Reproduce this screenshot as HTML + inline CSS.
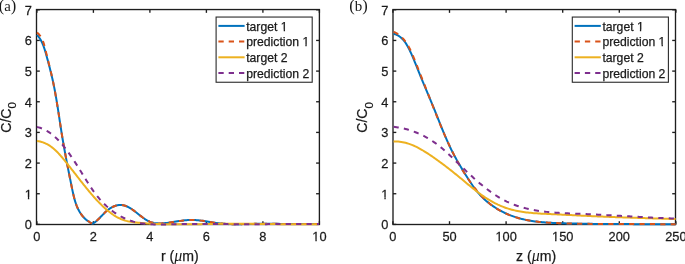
<!DOCTYPE html><html><head><meta charset="utf-8"><style>
html,body{margin:0;padding:0;background:#fff;}
svg{display:block;will-change:transform;}
text{font-family:"Liberation Sans",sans-serif;fill:#1a1a1a;stroke:#1a1a1a;stroke-width:0.25px;}
.serif{font-family:"Liberation Serif",serif;stroke:none;}
</style></head><body>
<svg width="685" height="264" viewBox="0 0 685 264">
<g stroke="#1e1e1e" stroke-width="1.35" fill="none">
<rect x="36.5" y="9.55" width="282.90" height="214.95"/>
<line x1="36.90" y1="224.5" x2="36.90" y2="221.20"/><line x1="36.90" y1="9.55" x2="36.90" y2="12.85"/>
<line x1="93.40" y1="224.5" x2="93.40" y2="221.20"/><line x1="93.40" y1="9.55" x2="93.40" y2="12.85"/>
<line x1="149.90" y1="224.5" x2="149.90" y2="221.20"/><line x1="149.90" y1="9.55" x2="149.90" y2="12.85"/>
<line x1="206.40" y1="224.5" x2="206.40" y2="221.20"/><line x1="206.40" y1="9.55" x2="206.40" y2="12.85"/>
<line x1="262.90" y1="224.5" x2="262.90" y2="221.20"/><line x1="262.90" y1="9.55" x2="262.90" y2="12.85"/>
<line x1="319.40" y1="224.5" x2="319.40" y2="221.20"/><line x1="319.40" y1="9.55" x2="319.40" y2="12.85"/>
<line x1="36.5" y1="224.40" x2="39.80" y2="224.40"/><line x1="319.4" y1="224.40" x2="316.10" y2="224.40"/>
<line x1="36.5" y1="193.74" x2="39.80" y2="193.74"/><line x1="319.4" y1="193.74" x2="316.10" y2="193.74"/>
<line x1="36.5" y1="163.08" x2="39.80" y2="163.08"/><line x1="319.4" y1="163.08" x2="316.10" y2="163.08"/>
<line x1="36.5" y1="132.42" x2="39.80" y2="132.42"/><line x1="319.4" y1="132.42" x2="316.10" y2="132.42"/>
<line x1="36.5" y1="101.76" x2="39.80" y2="101.76"/><line x1="319.4" y1="101.76" x2="316.10" y2="101.76"/>
<line x1="36.5" y1="71.10" x2="39.80" y2="71.10"/><line x1="319.4" y1="71.10" x2="316.10" y2="71.10"/>
<line x1="36.5" y1="40.44" x2="39.80" y2="40.44"/><line x1="319.4" y1="40.44" x2="316.10" y2="40.44"/>
<line x1="36.5" y1="9.78" x2="39.80" y2="9.78"/><line x1="319.4" y1="9.78" x2="316.10" y2="9.78"/>
</g>
<g fill="none" stroke-width="2.0" stroke-linejoin="round">
<path d="M37.01 34.89 L37.96 35.98 L38.85 37.11 L39.67 38.29 L40.44 39.51 L41.15 40.77 L41.81 42.06 L42.43 43.39 L43.00 44.75 L43.54 46.14 L44.04 47.54 L44.52 48.96 L44.97 50.40 L45.41 51.85 L45.83 53.30 L46.24 54.76 L46.64 56.22 L47.03 57.68 L47.43 59.13 L47.82 60.58 L48.21 62.03 L48.59 63.47 L48.97 64.92 L49.35 66.36 L49.72 67.80 L50.09 69.24 L50.45 70.68 L50.81 72.13 L51.16 73.57 L51.50 75.01 L51.85 76.45 L52.18 77.90 L52.51 79.34 L52.83 80.79 L53.15 82.24 L53.46 83.70 L53.76 85.15 L54.06 86.61 L54.35 88.07 L54.63 89.53 L54.91 91.00 L55.18 92.47 L55.45 93.94 L55.71 95.41 L55.97 96.88 L56.22 98.36 L56.47 99.84 L56.72 101.31 L56.96 102.79 L57.20 104.27 L57.44 105.75 L57.67 107.24 L57.90 108.72 L58.13 110.20 L58.36 111.69 L58.59 113.17 L58.81 114.65 L59.04 116.14 L59.26 117.62 L59.48 119.10 L59.71 120.58 L59.93 122.06 L60.15 123.54 L60.38 125.02 L60.60 126.50 L60.83 127.98 L61.06 129.45 L61.29 130.93 L61.52 132.40 L61.76 133.87 L62.00 135.34 L62.24 136.80 L62.48 138.27 L62.73 139.73 L62.98 141.19 L63.23 142.65 L63.48 144.11 L63.74 145.57 L64.00 147.02 L64.26 148.48 L64.52 149.94 L64.78 151.39 L65.05 152.85 L65.32 154.30 L65.59 155.76 L65.87 157.21 L66.14 158.67 L66.42 160.13 L66.70 161.58 L66.98 163.04 L67.26 164.50 L67.55 165.96 L67.83 167.42 L68.12 168.88 L68.41 170.35 L68.70 171.81 L68.99 173.28 L69.28 174.75 L69.58 176.22 L69.88 177.70 L70.17 179.17 L70.47 180.65 L70.77 182.14 L71.07 183.62 L71.37 185.11 L71.68 186.60 L71.98 188.09 L72.29 189.59 L72.60 191.09 L72.92 192.58 L73.25 194.07 L73.60 195.55 L73.96 197.03 L74.34 198.49 L74.74 199.94 L75.16 201.38 L75.61 202.79 L76.09 204.19 L76.60 205.57 L77.15 206.93 L77.73 208.26 L78.35 209.56 L79.02 210.83 L79.73 212.07 L80.48 213.28 L81.29 214.45 L82.15 215.58 L83.06 216.67 L84.04 217.72 L85.07 218.73 L86.17 219.69 L87.33 220.60 L88.57 221.45 L89.87 222.26 L91.25 223.01 L92.70 223.71 L92.70 223.70 L93.87 222.98 L95.01 222.16 L96.13 221.26 L97.23 220.28 L98.31 219.25 L99.39 218.18 L100.47 217.07 L101.55 215.95 L102.63 214.82 L103.74 213.70 L104.86 212.60 L106.01 211.54 L107.19 210.52 L108.41 209.57 L109.66 208.68 L110.93 207.87 L112.24 207.15 L113.56 206.51 L114.90 205.97 L116.25 205.54 L117.61 205.22 L118.98 205.02 L120.34 204.94 L121.71 205.00 L123.06 205.19 L124.41 205.52 L125.75 205.96 L127.07 206.50 L128.39 207.14 L129.69 207.86 L130.99 208.65 L132.26 209.49 L133.53 210.38 L134.78 211.31 L136.01 212.26 L137.24 213.22 L138.46 214.19 L139.67 215.16 L140.89 216.11 L142.11 217.04 L143.34 217.94 L144.57 218.80 L145.82 219.60 L147.09 220.35 L148.38 221.03 L149.69 221.63 L151.03 222.15 L152.40 222.56 L153.79 222.89 L155.22 223.12 L156.66 223.28 L158.12 223.37 L159.59 223.40 L161.07 223.38 L162.55 223.31 L164.03 223.21 L165.52 223.07 L167.01 222.91 L168.50 222.72 L169.98 222.51 L171.47 222.29 L172.96 222.05 L174.45 221.81 L175.94 221.57 L177.44 221.33 L178.93 221.09 L180.42 220.87 L181.91 220.65 L183.40 220.46 L184.88 220.29 L186.37 220.15 L187.86 220.04 L189.35 219.97 L190.83 219.93 L192.31 219.94 L193.80 219.98 L195.28 220.06 L196.76 220.16 L198.24 220.29 L199.72 220.45 L201.20 220.63 L202.67 220.83 L204.15 221.04 L205.63 221.26 L207.11 221.49 L208.59 221.73 L210.06 221.97 L211.54 222.21 L213.02 222.44 L214.50 222.67 L215.98 222.89 L217.47 223.10 L218.95 223.29 L220.43 223.46 L221.92 223.61 L223.41 223.74 L224.89 223.85 L226.38 223.94 L227.87 224.01 L229.36 224.07 L230.86 224.12 L232.35 224.15 L233.84 224.17 L235.34 224.18 L236.83 224.18 L238.33 224.17 L239.82 224.15 L241.32 224.13 L242.81 224.10 L244.31 224.07 L245.81 224.04 L247.30 224.01 L248.80 223.97 L250.29 223.94 L251.79 223.91 L253.29 223.88 L254.78 223.86 L256.28 223.84 L257.77 223.82 L259.27 223.81 L260.76 223.80 L262.25 223.79 L263.75 223.79 L265.24 223.79 L266.74 223.79 L268.23 223.79 L269.72 223.80 L271.22 223.81 L272.71 223.82 L274.20 223.83 L275.69 223.84 L277.19 223.85 L278.68 223.87 L280.17 223.88 L281.66 223.90 L283.16 223.92 L284.65 223.93 L286.14 223.95 L287.63 223.97 L289.13 223.98 L290.62 224.00 L292.11 224.02 L293.60 224.03 L295.10 224.05 L296.59 224.06 L298.08 224.07 L299.57 224.08 L301.07 224.09 L302.56 224.10 L304.05 224.10 L305.55 224.10 L307.04 224.10 L308.54 224.10 L310.03 224.10 L311.52 224.09 L313.02 224.08 L314.51 224.06 L316.01 224.04 L317.50 224.02 L319.00 224.00" stroke="#0072BD"/>
<path d="M37.01 32.59 L38.13 33.53 L39.13 34.54 L40.03 35.63 L40.83 36.79 L41.55 38.02 L42.19 39.29 L42.76 40.62 L43.28 41.99 L43.74 43.39 L44.16 44.82 L44.56 46.27 L44.93 47.74 L45.29 49.20 L45.65 50.67 L46.01 52.14 L46.36 53.60 L46.73 55.06 L47.09 56.51 L47.45 57.96 L47.81 59.41 L48.17 60.86 L48.53 62.31 L48.89 63.75 L49.24 65.19 L49.60 66.64 L49.95 68.08 L50.30 69.52 L50.64 70.96 L50.98 72.40 L51.32 73.85 L51.65 75.29 L51.97 76.74 L52.29 78.19 L52.60 79.64 L52.91 81.09 L53.21 82.55 L53.51 84.01 L53.80 85.47 L54.08 86.93 L54.36 88.39 L54.64 89.86 L54.91 91.32 L55.18 92.79 L55.44 94.26 L55.70 95.73 L55.95 97.20 L56.21 98.68 L56.46 100.15 L56.70 101.63 L56.94 103.10 L57.18 104.58 L57.42 106.06 L57.66 107.53 L57.89 109.01 L58.13 110.49 L58.36 111.96 L58.59 113.44 L58.82 114.92 L59.05 116.40 L59.28 117.87 L59.50 119.35 L59.73 120.82 L59.96 122.30 L60.19 123.77 L60.42 125.24 L60.65 126.72 L60.88 128.19 L61.11 129.66 L61.35 131.12 L61.58 132.59 L61.82 134.06 L62.06 135.52 L62.31 136.98 L62.55 138.44 L62.80 139.90 L63.05 141.36 L63.30 142.81 L63.55 144.27 L63.81 145.73 L64.06 147.18 L64.32 148.63 L64.58 150.09 L64.84 151.54 L65.11 153.00 L65.38 154.45 L65.64 155.90 L65.91 157.36 L66.19 158.81 L66.46 160.27 L66.74 161.72 L67.01 163.18 L67.29 164.64 L67.57 166.10 L67.86 167.56 L68.14 169.02 L68.43 170.48 L68.71 171.94 L69.00 173.41 L69.29 174.88 L69.59 176.35 L69.88 177.82 L70.18 179.30 L70.47 180.77 L70.77 182.25 L71.07 183.74 L71.37 185.22 L71.67 186.71 L71.98 188.20 L72.28 189.69 L72.60 191.18 L72.92 192.67 L73.25 194.16 L73.60 195.64 L73.96 197.11 L74.34 198.56 L74.75 200.01 L75.17 201.44 L75.63 202.85 L76.11 204.25 L76.62 205.62 L77.17 206.97 L77.76 208.29 L78.38 209.59 L79.05 210.86 L79.76 212.09 L80.52 213.29 L81.32 214.46 L82.18 215.59 L83.10 216.68 L84.07 217.73 L85.10 218.73 L86.20 219.69 L87.36 220.59 L88.59 221.45 L89.88 222.26 L91.25 223.01 L92.70 223.71 L92.70 223.70 L93.87 222.98 L95.01 222.16 L96.13 221.26 L97.23 220.28 L98.31 219.25 L99.39 218.18 L100.47 217.07 L101.55 215.95 L102.63 214.82 L103.74 213.70 L104.86 212.60 L106.01 211.54 L107.19 210.52 L108.41 209.57 L109.66 208.68 L110.93 207.87 L112.24 207.15 L113.56 206.51 L114.90 205.97 L116.25 205.54 L117.61 205.22 L118.98 205.02 L120.34 204.94 L121.71 205.00 L123.06 205.19 L124.41 205.52 L125.75 205.96 L127.07 206.50 L128.39 207.14 L129.69 207.86 L130.99 208.65 L132.26 209.49 L133.53 210.38 L134.78 211.31 L136.01 212.26 L137.24 213.22 L138.46 214.19 L139.67 215.16 L140.89 216.11 L142.11 217.04 L143.34 217.94 L144.57 218.80 L145.82 219.60 L147.09 220.35 L148.38 221.03 L149.69 221.63 L151.03 222.15 L152.40 222.56 L153.79 222.89 L155.22 223.12 L156.66 223.28 L158.12 223.37 L159.59 223.40 L161.07 223.38 L162.55 223.31 L164.03 223.21 L165.52 223.07 L167.01 222.91 L168.50 222.72 L169.98 222.51 L171.47 222.29 L172.96 222.05 L174.45 221.81 L175.94 221.57 L177.44 221.33 L178.93 221.09 L180.42 220.87 L181.91 220.65 L183.40 220.46 L184.88 220.29 L186.37 220.15 L187.86 220.04 L189.35 219.97 L190.83 219.93 L192.31 219.94 L193.80 219.98 L195.28 220.06 L196.76 220.16 L198.24 220.29 L199.72 220.45 L201.20 220.63 L202.67 220.83 L204.15 221.04 L205.63 221.26 L207.11 221.49 L208.59 221.73 L210.06 221.97 L211.54 222.21 L213.02 222.44 L214.50 222.67 L215.98 222.89 L217.47 223.10 L218.95 223.29 L220.43 223.46 L221.92 223.61 L223.41 223.74 L224.89 223.85 L226.38 223.94 L227.87 224.01 L229.36 224.07 L230.86 224.12 L232.35 224.15 L233.84 224.17 L235.34 224.18 L236.83 224.18 L238.33 224.17 L239.82 224.15 L241.32 224.13 L242.81 224.10 L244.31 224.07 L245.81 224.04 L247.30 224.01 L248.80 223.97 L250.29 223.94 L251.79 223.91 L253.29 223.88 L254.78 223.86 L256.28 223.84 L257.77 223.82 L259.27 223.81 L260.76 223.80 L262.25 223.79 L263.75 223.79 L265.24 223.79 L266.74 223.79 L268.23 223.79 L269.72 223.80 L271.22 223.81 L272.71 223.82 L274.20 223.83 L275.69 223.84 L277.19 223.85 L278.68 223.87 L280.17 223.88 L281.66 223.90 L283.16 223.92 L284.65 223.93 L286.14 223.95 L287.63 223.97 L289.13 223.98 L290.62 224.00 L292.11 224.02 L293.60 224.03 L295.10 224.05 L296.59 224.06 L298.08 224.07 L299.57 224.08 L301.07 224.09 L302.56 224.10 L304.05 224.10 L305.55 224.10 L307.04 224.10 L308.54 224.10 L310.03 224.10 L311.52 224.09 L313.02 224.08 L314.51 224.06 L316.01 224.04 L317.50 224.02 L319.00 224.00" stroke="#D95319" stroke-dasharray="5.2 5.2"/>
<path d="M37.00 141.00 L38.58 141.24 L40.11 141.56 L41.60 141.96 L43.03 142.42 L44.43 142.96 L45.78 143.56 L47.10 144.22 L48.38 144.93 L49.62 145.70 L50.83 146.52 L52.00 147.39 L53.15 148.30 L54.27 149.26 L55.36 150.24 L56.44 151.26 L57.48 152.31 L58.51 153.39 L59.53 154.49 L60.52 155.61 L61.50 156.74 L62.48 157.89 L63.44 159.04 L64.39 160.20 L65.34 161.36 L66.28 162.52 L67.22 163.69 L68.15 164.85 L69.08 166.02 L70.00 167.19 L70.92 168.36 L71.84 169.53 L72.76 170.71 L73.67 171.88 L74.59 173.05 L75.50 174.23 L76.41 175.40 L77.32 176.58 L78.24 177.75 L79.15 178.92 L80.07 180.10 L80.99 181.27 L81.91 182.44 L82.84 183.61 L83.76 184.78 L84.70 185.95 L85.63 187.12 L86.58 188.28 L87.52 189.44 L88.48 190.60 L89.44 191.76 L90.41 192.91 L91.38 194.06 L92.37 195.21 L93.36 196.35 L94.36 197.48 L95.37 198.60 L96.39 199.72 L97.42 200.82 L98.46 201.92 L99.51 203.00 L100.58 204.07 L101.65 205.13 L102.74 206.17 L103.84 207.20 L104.96 208.22 L106.09 209.22 L107.23 210.20 L108.39 211.16 L109.56 212.09 L110.75 213.00 L111.96 213.89 L113.18 214.74 L114.42 215.55 L115.68 216.33 L116.95 217.06 L118.24 217.76 L119.56 218.41 L120.89 219.01 L122.24 219.56 L123.61 220.05 L125.00 220.49 L126.41 220.88 L127.84 221.23 L129.28 221.53 L130.73 221.80 L132.19 222.04 L133.66 222.24 L135.14 222.43 L136.63 222.59 L138.12 222.74 L139.61 222.87 L141.10 223.00 L142.60 223.12 L144.09 223.24 L145.58 223.34 L147.07 223.45 L148.57 223.54 L150.06 223.63 L151.55 223.71 L153.05 223.79 L154.54 223.86 L156.03 223.93 L157.53 223.99 L159.02 224.04 L160.52 224.09 L162.01 224.14 L163.51 224.18 L165.00 224.21 L166.50 224.25 L167.99 224.27 L169.49 224.30 L170.98 224.32 L172.48 224.33 L173.98 224.34 L175.47 224.35 L176.97 224.36 L178.46 224.36 L179.96 224.36 L181.46 224.36 L182.95 224.35 L184.45 224.34 L185.94 224.33 L187.44 224.32 L188.94 224.31 L190.43 224.29 L191.93 224.27 L193.43 224.25 L194.92 224.23 L196.42 224.21 L197.92 224.19 L199.41 224.16 L200.91 224.14 L202.40 224.11 L203.90 224.09 L205.40 224.06 L206.89 224.03 L208.39 224.01 L209.89 223.98 L211.38 223.96 L212.88 223.93 L214.37 223.91 L215.87 223.89 L217.37 223.86 L218.86 223.84 L220.36 223.82 L221.85 223.80 L223.35 223.79 L224.84 223.77 L226.34 223.76 L227.84 223.75 L229.33 223.74 L230.83 223.74 L232.32 223.73 L233.81 223.73 L235.31 223.73 L236.80 223.73 L238.30 223.74 L239.79 223.74 L241.29 223.75 L242.78 223.75 L244.28 223.76 L245.77 223.77 L247.26 223.79 L248.76 223.80 L250.25 223.81 L251.75 223.83 L253.24 223.84 L254.73 223.86 L256.23 223.87 L257.72 223.89 L259.21 223.91 L260.71 223.93 L262.20 223.95 L263.69 223.96 L265.19 223.98 L266.68 224.00 L268.18 224.02 L269.67 224.04 L271.16 224.06 L272.66 224.08 L274.15 224.10 L275.64 224.12 L277.14 224.13 L278.63 224.15 L280.13 224.17 L281.62 224.18 L283.11 224.20 L284.61 224.21 L286.10 224.22 L287.60 224.24 L289.09 224.25 L290.58 224.26 L292.08 224.26 L293.57 224.27 L295.07 224.28 L296.56 224.28 L298.06 224.28 L299.55 224.28 L301.05 224.28 L302.54 224.28 L304.04 224.27 L305.53 224.27 L307.03 224.26 L308.53 224.25 L310.02 224.23 L311.52 224.22 L313.01 224.20 L314.51 224.18 L316.01 224.15 L317.50 224.13 L319.00 224.10" stroke="#EDB120"/>
<path d="M37.00 126.99 L38.50 127.37 L39.97 127.82 L41.40 128.31 L42.79 128.87 L44.15 129.47 L45.47 130.13 L46.77 130.83 L48.03 131.58 L49.26 132.37 L50.46 133.20 L51.64 134.07 L52.79 134.98 L53.91 135.92 L55.01 136.90 L56.09 137.90 L57.14 138.93 L58.18 139.98 L59.20 141.06 L60.19 142.16 L61.18 143.27 L62.14 144.41 L63.09 145.55 L64.03 146.71 L64.96 147.87 L65.87 149.05 L66.77 150.24 L67.66 151.44 L68.54 152.65 L69.42 153.87 L70.28 155.09 L71.13 156.32 L71.97 157.56 L72.81 158.81 L73.64 160.07 L74.46 161.33 L75.28 162.59 L76.09 163.86 L76.90 165.13 L77.70 166.41 L78.50 167.69 L79.30 168.98 L80.09 170.26 L80.88 171.55 L81.67 172.84 L82.46 174.13 L83.25 175.42 L84.05 176.71 L84.84 178.00 L85.64 179.28 L86.44 180.56 L87.25 181.84 L88.06 183.11 L88.88 184.38 L89.70 185.64 L90.53 186.89 L91.38 188.13 L92.23 189.37 L93.09 190.60 L93.96 191.81 L94.85 193.02 L95.75 194.21 L96.66 195.40 L97.58 196.56 L98.53 197.72 L99.48 198.86 L100.46 199.98 L101.45 201.09 L102.46 202.18 L103.50 203.25 L104.55 204.31 L105.62 205.34 L106.72 206.36 L107.83 207.35 L108.96 208.32 L110.12 209.27 L111.29 210.20 L112.48 211.10 L113.69 211.98 L114.91 212.83 L116.15 213.66 L117.41 214.45 L118.68 215.22 L119.97 215.96 L121.27 216.67 L122.59 217.35 L123.92 218.00 L125.26 218.62 L126.62 219.20 L127.98 219.75 L129.36 220.27 L130.75 220.75 L132.15 221.19 L133.56 221.60 L134.98 221.97 L136.41 222.32 L137.85 222.63 L139.29 222.91 L140.74 223.16 L142.21 223.39 L143.67 223.59 L145.15 223.76 L146.63 223.92 L148.11 224.05 L149.60 224.16 L151.10 224.25 L152.60 224.32 L154.11 224.38 L155.61 224.42 L157.13 224.44 L158.64 224.46 L160.16 224.46 L161.68 224.45 L163.20 224.44 L164.72 224.41 L166.24 224.38 L167.76 224.35 L169.28 224.31 L170.80 224.27 L172.33 224.23 L173.84 224.19 L175.36 224.15 L176.88 224.12 L178.39 224.09 L179.90 224.06 L181.41 224.03 L182.91 224.01 L184.42 223.99 L185.92 223.98 L187.42 223.96 L188.92 223.95 L190.42 223.94 L191.91 223.94 L193.41 223.93 L194.90 223.93 L196.39 223.93 L197.88 223.94 L199.37 223.94 L200.86 223.94 L202.35 223.95 L203.84 223.96 L205.33 223.97 L206.81 223.98 L208.30 223.99 L209.79 224.00 L211.27 224.01 L212.76 224.02 L214.24 224.03 L215.73 224.04 L217.22 224.05 L218.70 224.07 L220.19 224.08 L221.68 224.09 L223.17 224.10 L224.66 224.11 L226.15 224.12 L227.64 224.12 L229.13 224.13 L230.62 224.14 L232.12 224.14 L233.61 224.15 L235.10 224.15 L236.60 224.15 L238.09 224.16 L239.59 224.16 L241.09 224.16 L242.58 224.16 L244.08 224.16 L245.58 224.16 L247.08 224.16 L248.58 224.16 L250.08 224.16 L251.58 224.16 L253.08 224.16 L254.58 224.15 L256.08 224.15 L257.58 224.15 L259.08 224.14 L260.58 224.14 L262.08 224.14 L263.58 224.13 L265.08 224.13 L266.59 224.13 L268.09 224.12 L269.59 224.12 L271.09 224.11 L272.59 224.11 L274.09 224.10 L275.60 224.10 L277.10 224.10 L278.60 224.09 L280.10 224.09 L281.60 224.08 L283.10 224.08 L284.60 224.08 L286.10 224.07 L287.60 224.07 L289.10 224.07 L290.60 224.06 L292.10 224.06 L293.60 224.06 L295.10 224.06 L296.60 224.06 L298.09 224.06 L299.59 224.06 L301.09 224.06 L302.58 224.06 L304.08 224.06 L305.58 224.06 L307.07 224.06 L308.56 224.06 L310.06 224.07 L311.55 224.07 L313.04 224.08 L314.53 224.08 L316.02 224.09 L317.51 224.09 L319.00 224.10" stroke="#7E2F8E" stroke-dasharray="5.2 5.2"/>
</g>
<rect x="216.1" y="17.05" width="96.1" height="65.2" fill="#fff" stroke="#2a2a2a" stroke-width="1.1"/>
<line x1="218.40" y1="25.9" x2="244.60" y2="25.9" stroke="#0072BD" stroke-width="2.0"/>
<text x="246.20" y="30.70" font-size="12.2">target 1</text>
<line x1="218.40" y1="41.6" x2="244.60" y2="41.6" stroke="#D95319" stroke-width="2.0" stroke-dasharray="5.3 5.0"/>
<text x="246.20" y="46.40" font-size="12.2">prediction 1</text>
<line x1="218.40" y1="57.3" x2="244.60" y2="57.3" stroke="#EDB120" stroke-width="2.0"/>
<text x="246.20" y="62.10" font-size="12.2">target 2</text>
<line x1="218.40" y1="73.0" x2="244.60" y2="73.0" stroke="#7E2F8E" stroke-width="2.0" stroke-dasharray="5.3 5.0"/>
<text x="246.20" y="77.80" font-size="12.2">prediction 2</text>
<text transform="translate(36.90,241.2) scale(0.95,1)" font-size="13.5" text-anchor="middle">0</text>
<text transform="translate(93.40,241.2) scale(0.95,1)" font-size="13.5" text-anchor="middle">2</text>
<text transform="translate(149.90,241.2) scale(0.95,1)" font-size="13.5" text-anchor="middle">4</text>
<text transform="translate(206.40,241.2) scale(0.95,1)" font-size="13.5" text-anchor="middle">6</text>
<text transform="translate(262.90,241.2) scale(0.95,1)" font-size="13.5" text-anchor="middle">8</text>
<text transform="translate(319.40,241.2) scale(0.95,1)" font-size="13.5" text-anchor="middle">10</text>
<text transform="translate(31.90,229.30) scale(0.95,1)" font-size="13.5" text-anchor="end">0</text>
<text transform="translate(31.90,198.64) scale(0.95,1)" font-size="13.5" text-anchor="end">1</text>
<text transform="translate(31.90,167.98) scale(0.95,1)" font-size="13.5" text-anchor="end">2</text>
<text transform="translate(31.90,137.32) scale(0.95,1)" font-size="13.5" text-anchor="end">3</text>
<text transform="translate(31.90,106.66) scale(0.95,1)" font-size="13.5" text-anchor="end">4</text>
<text transform="translate(31.90,76.00) scale(0.95,1)" font-size="13.5" text-anchor="end">5</text>
<text transform="translate(31.90,45.34) scale(0.95,1)" font-size="13.5" text-anchor="end">6</text>
<text transform="translate(31.90,14.68) scale(0.95,1)" font-size="13.5" text-anchor="end">7</text>
<text x="179.85" y="261.0" font-size="14.1" text-anchor="middle">r (<tspan class="serif" font-style="italic" font-size="16">&#956;</tspan>m)</text>
<text transform="translate(10.90,117.43) rotate(-90)" font-size="14.1" text-anchor="middle">C/C<tspan font-size="11.5" dy="5.2">0</tspan></text>
<g stroke="#1e1e1e" stroke-width="1.35" fill="none">
<rect x="393.0" y="9.55" width="282.50" height="214.95"/>
<line x1="392.90" y1="224.5" x2="392.90" y2="221.20"/><line x1="392.90" y1="9.55" x2="392.90" y2="12.85"/>
<line x1="449.50" y1="224.5" x2="449.50" y2="221.20"/><line x1="449.50" y1="9.55" x2="449.50" y2="12.85"/>
<line x1="506.10" y1="224.5" x2="506.10" y2="221.20"/><line x1="506.10" y1="9.55" x2="506.10" y2="12.85"/>
<line x1="562.70" y1="224.5" x2="562.70" y2="221.20"/><line x1="562.70" y1="9.55" x2="562.70" y2="12.85"/>
<line x1="619.30" y1="224.5" x2="619.30" y2="221.20"/><line x1="619.30" y1="9.55" x2="619.30" y2="12.85"/>
<line x1="675.90" y1="224.5" x2="675.90" y2="221.20"/><line x1="675.90" y1="9.55" x2="675.90" y2="12.85"/>
<line x1="393.0" y1="224.40" x2="396.30" y2="224.40"/><line x1="675.5" y1="224.40" x2="672.20" y2="224.40"/>
<line x1="393.0" y1="193.74" x2="396.30" y2="193.74"/><line x1="675.5" y1="193.74" x2="672.20" y2="193.74"/>
<line x1="393.0" y1="163.08" x2="396.30" y2="163.08"/><line x1="675.5" y1="163.08" x2="672.20" y2="163.08"/>
<line x1="393.0" y1="132.42" x2="396.30" y2="132.42"/><line x1="675.5" y1="132.42" x2="672.20" y2="132.42"/>
<line x1="393.0" y1="101.76" x2="396.30" y2="101.76"/><line x1="675.5" y1="101.76" x2="672.20" y2="101.76"/>
<line x1="393.0" y1="71.10" x2="396.30" y2="71.10"/><line x1="675.5" y1="71.10" x2="672.20" y2="71.10"/>
<line x1="393.0" y1="40.44" x2="396.30" y2="40.44"/><line x1="675.5" y1="40.44" x2="672.20" y2="40.44"/>
<line x1="393.0" y1="9.78" x2="396.30" y2="9.78"/><line x1="675.5" y1="9.78" x2="672.20" y2="9.78"/>
</g>
<g fill="none" stroke-width="2.0" stroke-linejoin="round">
<path d="M393.60 33.70 L395.11 34.18 L396.53 34.77 L397.86 35.44 L399.10 36.20 L400.27 37.04 L401.36 37.95 L402.39 38.93 L403.36 39.97 L404.26 41.07 L405.12 42.22 L405.93 43.41 L406.70 44.65 L407.44 45.91 L408.14 47.21 L408.82 48.53 L409.49 49.86 L410.13 51.21 L410.76 52.56 L411.38 53.93 L411.99 55.30 L412.59 56.68 L413.19 58.07 L413.77 59.46 L414.35 60.86 L414.92 62.26 L415.49 63.66 L416.05 65.07 L416.61 66.47 L417.17 67.88 L417.73 69.28 L418.29 70.69 L418.85 72.09 L419.42 73.48 L419.98 74.88 L420.55 76.27 L421.12 77.66 L421.69 79.04 L422.26 80.42 L422.83 81.80 L423.41 83.18 L423.98 84.56 L424.56 85.94 L425.14 87.31 L425.72 88.68 L426.29 90.06 L426.87 91.43 L427.45 92.80 L428.02 94.17 L428.60 95.54 L429.18 96.91 L429.75 98.28 L430.33 99.66 L430.90 101.03 L431.47 102.40 L432.04 103.78 L432.61 105.15 L433.18 106.53 L433.74 107.91 L434.31 109.29 L434.87 110.68 L435.42 112.06 L435.98 113.45 L436.54 114.84 L437.09 116.23 L437.65 117.62 L438.20 119.01 L438.75 120.41 L439.31 121.80 L439.86 123.19 L440.42 124.59 L440.98 125.98 L441.54 127.37 L442.10 128.76 L442.67 130.15 L443.24 131.54 L443.82 132.93 L444.39 134.31 L444.98 135.69 L445.56 137.07 L446.16 138.45 L446.76 139.82 L447.36 141.19 L447.97 142.56 L448.59 143.92 L449.22 145.28 L449.85 146.63 L450.49 147.98 L451.14 149.32 L451.80 150.66 L452.47 152.00 L453.15 153.32 L453.83 154.65 L454.53 155.96 L455.24 157.27 L455.96 158.58 L456.68 159.88 L457.41 161.17 L458.16 162.47 L458.90 163.75 L459.66 165.04 L460.42 166.32 L461.19 167.60 L461.97 168.87 L462.74 170.14 L463.53 171.42 L464.32 172.69 L465.11 173.96 L465.91 175.22 L466.70 176.49 L467.51 177.76 L468.31 179.03 L469.12 180.29 L469.94 181.55 L470.76 182.81 L471.59 184.05 L472.44 185.29 L473.30 186.52 L474.17 187.74 L475.07 188.94 L475.97 190.12 L476.90 191.29 L477.86 192.44 L478.83 193.58 L479.83 194.69 L480.85 195.77 L481.89 196.84 L482.95 197.89 L484.03 198.92 L485.14 199.92 L486.26 200.91 L487.40 201.87 L488.56 202.81 L489.74 203.73 L490.93 204.63 L492.14 205.50 L493.37 206.35 L494.61 207.19 L495.87 207.99 L497.14 208.78 L498.43 209.54 L499.73 210.28 L501.04 211.00 L502.36 211.70 L503.70 212.37 L505.04 213.02 L506.40 213.64 L507.77 214.24 L509.14 214.82 L510.52 215.38 L511.92 215.91 L513.31 216.41 L514.72 216.89 L516.13 217.35 L517.55 217.79 L518.98 218.20 L520.41 218.59 L521.84 218.96 L523.28 219.30 L524.73 219.63 L526.18 219.94 L527.63 220.23 L529.09 220.50 L530.56 220.75 L532.03 220.99 L533.50 221.21 L534.98 221.42 L536.45 221.61 L537.94 221.79 L539.42 221.95 L540.91 222.10 L542.40 222.24 L543.90 222.37 L545.39 222.49 L546.89 222.60 L548.39 222.69 L549.89 222.78 L551.39 222.86 L552.90 222.94 L554.40 223.01 L555.90 223.07 L557.41 223.12 L558.92 223.18 L560.42 223.22 L561.93 223.27 L563.43 223.31 L564.94 223.35 L566.44 223.39 L567.95 223.43 L569.45 223.46 L570.95 223.50 L572.45 223.53 L573.95 223.56 L575.45 223.59 L576.95 223.62 L578.45 223.65 L579.95 223.68 L581.45 223.71 L582.95 223.73 L584.44 223.76 L585.94 223.78 L587.43 223.80 L588.93 223.82 L590.42 223.84 L591.92 223.86 L593.41 223.88 L594.91 223.90 L596.40 223.92 L597.89 223.93 L599.39 223.95 L600.88 223.96 L602.37 223.98 L603.87 223.99 L605.36 224.00 L606.85 224.01 L608.34 224.02 L609.83 224.03 L611.32 224.04 L612.81 224.05 L614.31 224.06 L615.80 224.07 L617.29 224.07 L618.78 224.08 L620.27 224.09 L621.76 224.09 L623.25 224.10 L624.74 224.10 L626.23 224.11 L627.72 224.11 L629.22 224.12 L630.71 224.12 L632.20 224.12 L633.69 224.13 L635.18 224.13 L636.67 224.13 L638.17 224.13 L639.66 224.14 L641.15 224.14 L642.64 224.14 L644.14 224.14 L645.63 224.14 L647.13 224.14 L648.62 224.15 L650.11 224.15 L651.61 224.15 L653.10 224.15 L654.60 224.15 L656.10 224.16 L657.59 224.16 L659.09 224.16 L660.59 224.16 L662.09 224.16 L663.59 224.17 L665.09 224.17 L666.59 224.17 L668.09 224.18 L669.59 224.18 L671.09 224.19 L672.59 224.19 L674.10 224.19 L675.60 224.20" stroke="#0072BD"/>
<path d="M393.61 31.79 L394.99 32.44 L396.31 33.16 L397.57 33.94 L398.76 34.77 L399.91 35.66 L400.99 36.59 L402.03 37.58 L403.02 38.61 L403.96 39.69 L404.86 40.81 L405.71 41.96 L406.53 43.15 L407.32 44.37 L408.07 45.62 L408.79 46.90 L409.48 48.21 L410.15 49.53 L410.80 50.88 L411.42 52.24 L412.03 53.62 L412.63 55.00 L413.21 56.40 L413.78 57.80 L414.35 59.21 L414.91 60.62 L415.48 62.02 L416.04 63.43 L416.59 64.83 L417.15 66.23 L417.71 67.63 L418.26 69.03 L418.82 70.43 L419.37 71.82 L419.92 73.22 L420.47 74.61 L421.02 76.00 L421.57 77.40 L422.12 78.79 L422.67 80.18 L423.22 81.57 L423.76 82.96 L424.31 84.34 L424.86 85.73 L425.40 87.12 L425.95 88.51 L426.49 89.90 L427.04 91.28 L427.58 92.67 L428.13 94.06 L428.67 95.45 L429.22 96.83 L429.76 98.22 L430.31 99.61 L430.85 101.00 L431.40 102.39 L431.94 103.78 L432.49 105.17 L433.04 106.56 L433.58 107.95 L434.13 109.34 L434.68 110.73 L435.23 112.13 L435.79 113.52 L436.34 114.91 L436.89 116.30 L437.45 117.69 L438.01 119.08 L438.57 120.47 L439.14 121.86 L439.71 123.25 L440.28 124.64 L440.85 126.03 L441.42 127.41 L442.00 128.79 L442.59 130.18 L443.17 131.56 L443.76 132.93 L444.36 134.31 L444.96 135.69 L445.56 137.06 L446.17 138.43 L446.78 139.79 L447.40 141.16 L448.02 142.52 L448.64 143.88 L449.28 145.24 L449.92 146.59 L450.56 147.94 L451.21 149.29 L451.87 150.63 L452.53 151.97 L453.20 153.31 L453.87 154.64 L454.56 155.97 L455.25 157.29 L455.94 158.61 L456.65 159.93 L457.36 161.24 L458.08 162.54 L458.80 163.85 L459.54 165.14 L460.28 166.44 L461.04 167.72 L461.80 169.00 L462.56 170.28 L463.34 171.55 L464.13 172.82 L464.93 174.08 L465.73 175.33 L466.55 176.58 L467.37 177.82 L468.21 179.05 L469.05 180.28 L469.91 181.50 L470.78 182.72 L471.65 183.93 L472.54 185.13 L473.44 186.32 L474.35 187.51 L475.27 188.69 L476.20 189.86 L477.15 191.02 L478.11 192.17 L479.08 193.31 L480.07 194.43 L481.08 195.54 L482.10 196.64 L483.13 197.71 L484.19 198.77 L485.26 199.81 L486.35 200.82 L487.46 201.82 L488.59 202.79 L489.74 203.74 L490.91 204.67 L492.10 205.56 L493.31 206.43 L494.54 207.28 L495.79 208.10 L497.06 208.89 L498.34 209.66 L499.64 210.41 L500.95 211.12 L502.28 211.81 L503.62 212.48 L504.97 213.12 L506.33 213.74 L507.70 214.33 L509.07 214.89 L510.46 215.43 L511.85 215.95 L513.25 216.44 L514.66 216.90 L516.07 217.35 L517.49 217.77 L518.92 218.17 L520.35 218.55 L521.79 218.92 L523.23 219.26 L524.68 219.58 L526.13 219.88 L527.59 220.17 L529.05 220.44 L530.52 220.69 L531.99 220.92 L533.46 221.14 L534.94 221.35 L536.42 221.54 L537.91 221.72 L539.40 221.89 L540.89 222.04 L542.38 222.18 L543.88 222.32 L545.37 222.44 L546.87 222.55 L548.38 222.65 L549.88 222.75 L551.38 222.83 L552.89 222.91 L554.40 222.98 L555.90 223.05 L557.41 223.11 L558.92 223.17 L560.42 223.22 L561.93 223.27 L563.44 223.32 L564.95 223.36 L566.45 223.40 L567.95 223.44 L569.46 223.48 L570.96 223.52 L572.46 223.55 L573.96 223.59 L575.47 223.62 L576.97 223.65 L578.46 223.68 L579.96 223.71 L581.46 223.74 L582.96 223.76 L584.45 223.79 L585.95 223.81 L587.45 223.84 L588.94 223.86 L590.44 223.88 L591.93 223.90 L593.42 223.91 L594.92 223.93 L596.41 223.95 L597.90 223.96 L599.40 223.97 L600.89 223.99 L602.38 224.00 L603.87 224.01 L605.36 224.02 L606.85 224.03 L608.34 224.04 L609.83 224.05 L611.32 224.05 L612.81 224.06 L614.30 224.07 L615.79 224.07 L617.28 224.08 L618.77 224.08 L620.26 224.09 L621.75 224.09 L623.24 224.09 L624.73 224.10 L626.22 224.10 L627.71 224.10 L629.20 224.10 L630.69 224.11 L632.18 224.11 L633.68 224.11 L635.17 224.11 L636.66 224.11 L638.15 224.11 L639.64 224.11 L641.13 224.11 L642.63 224.11 L644.12 224.11 L645.61 224.11 L647.11 224.12 L648.60 224.12 L650.10 224.12 L651.59 224.12 L653.09 224.12 L654.58 224.12 L656.08 224.13 L657.58 224.13 L659.08 224.13 L660.57 224.14 L662.07 224.14 L663.57 224.14 L665.07 224.15 L666.58 224.15 L668.08 224.16 L669.58 224.17 L671.08 224.17 L672.59 224.18 L674.10 224.19 L675.60 224.20" stroke="#D95319" stroke-dasharray="5.2 5.2"/>
<path d="M393.60 141.50 L395.16 141.47 L396.71 141.50 L398.23 141.59 L399.74 141.73 L401.23 141.93 L402.69 142.17 L404.15 142.47 L405.58 142.81 L407.00 143.19 L408.40 143.62 L409.79 144.09 L411.16 144.59 L412.52 145.13 L413.87 145.71 L415.20 146.32 L416.53 146.95 L417.84 147.62 L419.14 148.31 L420.43 149.02 L421.72 149.76 L422.99 150.51 L424.26 151.28 L425.52 152.07 L426.77 152.87 L428.02 153.68 L429.26 154.50 L430.50 155.33 L431.74 156.16 L432.97 157.01 L434.19 157.85 L435.41 158.71 L436.63 159.57 L437.84 160.44 L439.05 161.32 L440.25 162.20 L441.46 163.08 L442.65 163.97 L443.85 164.87 L445.04 165.77 L446.23 166.68 L447.41 167.59 L448.59 168.51 L449.77 169.43 L450.95 170.36 L452.12 171.29 L453.29 172.22 L454.46 173.16 L455.62 174.10 L456.79 175.04 L457.95 175.99 L459.10 176.94 L460.26 177.90 L461.42 178.85 L462.57 179.81 L463.72 180.77 L464.87 181.73 L466.02 182.69 L467.17 183.65 L468.32 184.61 L469.48 185.56 L470.63 186.51 L471.79 187.46 L472.96 188.40 L474.12 189.33 L475.30 190.26 L476.47 191.17 L477.66 192.08 L478.85 192.98 L480.05 193.86 L481.25 194.74 L482.47 195.60 L483.69 196.44 L484.93 197.27 L486.17 198.09 L487.43 198.89 L488.70 199.67 L489.97 200.43 L491.26 201.18 L492.56 201.90 L493.87 202.61 L495.19 203.29 L496.52 203.95 L497.86 204.60 L499.21 205.21 L500.57 205.81 L501.93 206.38 L503.31 206.93 L504.70 207.45 L506.09 207.95 L507.49 208.42 L508.90 208.86 L510.32 209.28 L511.74 209.67 L513.18 210.04 L514.62 210.38 L516.06 210.70 L517.51 211.00 L518.97 211.28 L520.44 211.53 L521.90 211.77 L523.38 212.00 L524.86 212.20 L526.34 212.39 L527.82 212.56 L529.31 212.72 L530.81 212.87 L532.30 213.01 L533.80 213.13 L535.30 213.25 L536.80 213.35 L538.30 213.45 L539.81 213.54 L541.31 213.63 L542.82 213.71 L544.32 213.78 L545.83 213.86 L547.33 213.93 L548.84 214.00 L550.34 214.06 L551.84 214.13 L553.34 214.21 L554.84 214.28 L556.33 214.35 L557.83 214.42 L559.32 214.50 L560.82 214.57 L562.31 214.65 L563.80 214.73 L565.29 214.80 L566.78 214.88 L568.26 214.96 L569.75 215.03 L571.24 215.11 L572.72 215.19 L574.21 215.27 L575.70 215.34 L577.18 215.42 L578.67 215.50 L580.15 215.57 L581.63 215.65 L583.12 215.72 L584.60 215.80 L586.09 215.87 L587.57 215.94 L589.06 216.01 L590.55 216.09 L592.03 216.16 L593.52 216.22 L595.01 216.29 L596.50 216.36 L597.98 216.42 L599.47 216.49 L600.96 216.55 L602.45 216.61 L603.94 216.68 L605.44 216.74 L606.93 216.80 L608.42 216.86 L609.91 216.92 L611.40 216.97 L612.90 217.03 L614.39 217.09 L615.88 217.14 L617.38 217.20 L618.87 217.25 L620.36 217.30 L621.86 217.36 L623.35 217.41 L624.85 217.46 L626.34 217.51 L627.84 217.56 L629.33 217.61 L630.83 217.66 L632.32 217.71 L633.82 217.76 L635.31 217.81 L636.81 217.86 L638.30 217.91 L639.80 217.96 L641.29 218.00 L642.79 218.05 L644.28 218.10 L645.77 218.15 L647.27 218.19 L648.76 218.24 L650.26 218.29 L651.75 218.33 L653.24 218.38 L654.74 218.43 L656.23 218.48 L657.72 218.52 L659.21 218.57 L660.71 218.62 L662.20 218.66 L663.69 218.71 L665.18 218.76 L666.67 218.81 L668.16 218.85 L669.65 218.90 L671.14 218.95 L672.62 219.00 L674.11 219.05 L675.60 219.10" stroke="#EDB120"/>
<path d="M393.60 126.80 L395.08 126.97 L396.57 127.17 L398.05 127.39 L399.53 127.64 L401.00 127.93 L402.48 128.24 L403.94 128.57 L405.40 128.94 L406.86 129.33 L408.31 129.74 L409.75 130.19 L411.19 130.65 L412.62 131.14 L414.03 131.66 L415.44 132.20 L416.84 132.77 L418.23 133.35 L419.61 133.96 L420.98 134.60 L422.33 135.25 L423.68 135.93 L425.01 136.62 L426.32 137.34 L427.62 138.08 L428.91 138.84 L430.18 139.61 L431.43 140.41 L432.67 141.22 L433.89 142.06 L435.10 142.91 L436.29 143.77 L437.46 144.66 L438.63 145.55 L439.78 146.47 L440.92 147.39 L442.05 148.33 L443.17 149.29 L444.28 150.25 L445.38 151.22 L446.48 152.21 L447.57 153.20 L448.66 154.20 L449.74 155.22 L450.82 156.23 L451.89 157.26 L452.96 158.29 L454.04 159.33 L455.11 160.37 L456.19 161.41 L457.26 162.46 L458.34 163.51 L459.42 164.56 L460.51 165.61 L461.59 166.67 L462.69 167.72 L463.78 168.77 L464.88 169.83 L465.98 170.88 L467.09 171.93 L468.20 172.97 L469.31 174.01 L470.43 175.05 L471.55 176.09 L472.68 177.11 L473.81 178.14 L474.95 179.15 L476.09 180.16 L477.24 181.17 L478.39 182.16 L479.55 183.15 L480.71 184.13 L481.88 185.09 L483.06 186.05 L484.24 187.00 L485.43 187.93 L486.62 188.85 L487.82 189.77 L489.03 190.66 L490.24 191.55 L491.46 192.42 L492.69 193.27 L493.93 194.11 L495.17 194.93 L496.42 195.74 L497.68 196.53 L498.95 197.30 L500.22 198.05 L501.50 198.79 L502.79 199.50 L504.09 200.20 L505.40 200.87 L506.71 201.53 L508.04 202.16 L509.37 202.77 L510.72 203.35 L512.07 203.92 L513.43 204.46 L514.80 204.98 L516.18 205.47 L517.56 205.95 L518.96 206.41 L520.36 206.84 L521.77 207.26 L523.19 207.66 L524.61 208.04 L526.04 208.40 L527.48 208.74 L528.92 209.07 L530.37 209.38 L531.83 209.67 L533.29 209.95 L534.75 210.22 L536.22 210.47 L537.70 210.71 L539.18 210.93 L540.66 211.14 L542.15 211.34 L543.65 211.52 L545.14 211.70 L546.64 211.87 L548.15 212.02 L549.65 212.17 L551.16 212.30 L552.67 212.43 L554.19 212.55 L555.70 212.66 L557.22 212.77 L558.74 212.86 L560.26 212.96 L561.78 213.04 L563.30 213.12 L564.82 213.20 L566.34 213.28 L567.86 213.35 L569.39 213.41 L570.91 213.48 L572.43 213.54 L573.95 213.60 L575.47 213.66 L576.98 213.72 L578.50 213.78 L580.01 213.84 L581.53 213.90 L583.04 213.97 L584.54 214.03 L586.05 214.10 L587.55 214.17 L589.05 214.24 L590.55 214.30 L592.05 214.38 L593.55 214.45 L595.04 214.52 L596.54 214.59 L598.03 214.67 L599.52 214.74 L601.01 214.82 L602.50 214.90 L603.98 214.98 L605.47 215.05 L606.96 215.13 L608.44 215.21 L609.92 215.29 L611.41 215.37 L612.89 215.46 L614.37 215.54 L615.85 215.62 L617.33 215.70 L618.81 215.78 L620.29 215.87 L621.77 215.95 L623.25 216.03 L624.73 216.11 L626.21 216.20 L627.69 216.28 L629.17 216.36 L630.66 216.45 L632.14 216.53 L633.62 216.61 L635.10 216.69 L636.58 216.77 L638.07 216.85 L639.55 216.93 L641.04 217.01 L642.52 217.09 L644.01 217.17 L645.50 217.25 L646.99 217.33 L648.48 217.40 L649.97 217.48 L651.46 217.55 L652.96 217.63 L654.45 217.70 L655.95 217.77 L657.45 217.84 L658.95 217.91 L660.45 217.98 L661.96 218.05 L663.47 218.12 L664.97 218.18 L666.49 218.25 L668.00 218.31 L669.52 218.37 L671.03 218.43 L672.55 218.49 L674.08 218.54 L675.60 218.60" stroke="#7E2F8E" stroke-dasharray="5.2 5.2"/>
</g>
<rect x="572.3" y="17.05" width="96.1" height="65.2" fill="#fff" stroke="#2a2a2a" stroke-width="1.1"/>
<line x1="574.60" y1="25.9" x2="600.80" y2="25.9" stroke="#0072BD" stroke-width="2.0"/>
<text x="602.40" y="30.70" font-size="12.2">target 1</text>
<line x1="574.60" y1="41.6" x2="600.80" y2="41.6" stroke="#D95319" stroke-width="2.0" stroke-dasharray="5.3 5.0"/>
<text x="602.40" y="46.40" font-size="12.2">prediction 1</text>
<line x1="574.60" y1="57.3" x2="600.80" y2="57.3" stroke="#EDB120" stroke-width="2.0"/>
<text x="602.40" y="62.10" font-size="12.2">target 2</text>
<line x1="574.60" y1="73.0" x2="600.80" y2="73.0" stroke="#7E2F8E" stroke-width="2.0" stroke-dasharray="5.3 5.0"/>
<text x="602.40" y="77.80" font-size="12.2">prediction 2</text>
<text transform="translate(392.90,241.2) scale(0.95,1)" font-size="13.5" text-anchor="middle">0</text>
<text transform="translate(449.50,241.2) scale(0.95,1)" font-size="13.5" text-anchor="middle">50</text>
<text transform="translate(506.10,241.2) scale(0.95,1)" font-size="13.5" text-anchor="middle">100</text>
<text transform="translate(562.70,241.2) scale(0.95,1)" font-size="13.5" text-anchor="middle">150</text>
<text transform="translate(619.30,241.2) scale(0.95,1)" font-size="13.5" text-anchor="middle">200</text>
<text transform="translate(675.90,241.2) scale(0.95,1)" font-size="13.5" text-anchor="middle">250</text>
<text transform="translate(388.40,229.30) scale(0.95,1)" font-size="13.5" text-anchor="end">0</text>
<text transform="translate(388.40,198.64) scale(0.95,1)" font-size="13.5" text-anchor="end">1</text>
<text transform="translate(388.40,167.98) scale(0.95,1)" font-size="13.5" text-anchor="end">2</text>
<text transform="translate(388.40,137.32) scale(0.95,1)" font-size="13.5" text-anchor="end">3</text>
<text transform="translate(388.40,106.66) scale(0.95,1)" font-size="13.5" text-anchor="end">4</text>
<text transform="translate(388.40,76.00) scale(0.95,1)" font-size="13.5" text-anchor="end">5</text>
<text transform="translate(388.40,45.34) scale(0.95,1)" font-size="13.5" text-anchor="end">6</text>
<text transform="translate(388.40,14.68) scale(0.95,1)" font-size="13.5" text-anchor="end">7</text>
<text x="536.15" y="261.0" font-size="14.1" text-anchor="middle">z (<tspan class="serif" font-style="italic" font-size="16">&#956;</tspan>m)</text>
<text transform="translate(367.40,117.43) rotate(-90)" font-size="14.1" text-anchor="middle">C/C<tspan font-size="11.5" dy="5.2">0</tspan></text>
<text class="serif" transform="translate(-1.3,10.6)" font-size="16.5">(<tspan font-size="14.8">a</tspan>)</text>
<text class="serif" transform="translate(349.3,10.6)" font-size="16.5">(<tspan font-size="15">b</tspan>)</text>
<g><rect x="280.68" y="29.74" width="3.02" height="2.56" fill="#fff"/><rect x="285.01" y="29.74" width="2.92" height="2.56" fill="#fff"/><rect x="302.35" y="44.74" width="3.02" height="2.56" fill="#fff"/><rect x="306.68" y="44.74" width="2.92" height="2.56" fill="#fff"/><rect x="312.30" y="239.84" width="3.08" height="2.66" fill="#fff"/><rect x="316.74" y="239.84" width="2.98" height="2.66" fill="#fff"/><rect x="24.79" y="197.28" width="3.08" height="2.66" fill="#fff"/><rect x="29.23" y="197.28" width="2.98" height="2.66" fill="#fff"/><rect x="636.88" y="29.74" width="3.02" height="2.56" fill="#fff"/><rect x="641.21" y="29.74" width="2.92" height="2.56" fill="#fff"/><rect x="658.55" y="44.74" width="3.02" height="2.56" fill="#fff"/><rect x="662.88" y="44.74" width="2.92" height="2.56" fill="#fff"/><rect x="495.44" y="239.84" width="3.08" height="2.66" fill="#fff"/><rect x="499.88" y="239.84" width="2.98" height="2.66" fill="#fff"/><rect x="552.04" y="239.84" width="3.08" height="2.66" fill="#fff"/><rect x="556.48" y="239.84" width="2.98" height="2.66" fill="#fff"/><rect x="381.29" y="197.28" width="3.08" height="2.66" fill="#fff"/><rect x="385.73" y="197.28" width="2.98" height="2.66" fill="#fff"/></g>
</svg></body></html>
